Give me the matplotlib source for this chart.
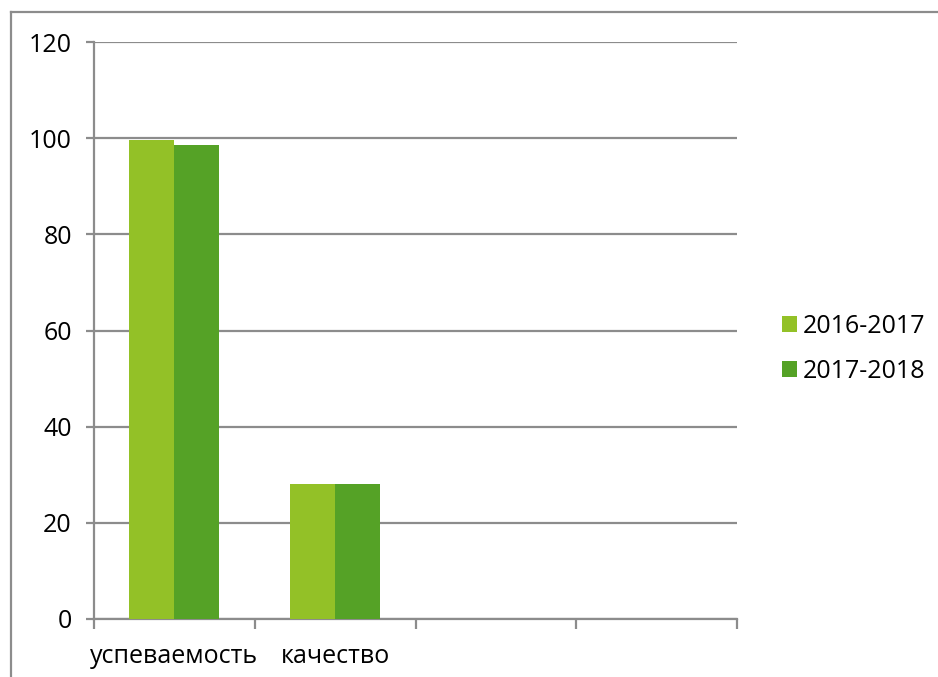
import matplotlib.pyplot as plt
from matplotlib.lines import Line2D
from matplotlib.patches import Patch

categories = ['успеваемость', 'качество', '', '']
years = ['2016-2017', '2017-2018']
values_2016 = [99.6, 28, None, None]
values_2017 = [98.5, 28, None, None]
colors = ['#93C127', '#55A226']

plt.rcParams['font.family'] = ['Open Sans', 'DejaVu Sans']

fig = plt.figure(figsize=(9.38, 6.77), dpi=100)
ax = fig.add_axes([94 / 938, 1 - 619 / 677, 643 / 938, 577 / 677])

gray = '#8c8c8c'
w = 0.28
for i, (v1, v2) in enumerate(zip(values_2016, values_2017)):
    if v1 is not None:
        ax.bar(i - w / 2, v1, w, color=colors[0], zorder=3)
    if v2 is not None:
        ax.bar(i + w / 2, v2, w, color=colors[1], zorder=3)

ax.set_xlim(-0.5, len(categories) - 0.5)
ax.set_ylim(0, 120)
ax.set_yticks(range(0, 121, 20))
ax.yaxis.grid(True, color=gray, linewidth=1.6, zorder=0)

ax.set_xticks(range(len(categories)))
ax.set_xticklabels(categories)
ax.set_xticks([i - 0.5 for i in range(len(categories) + 1)], minor=True)
ax.tick_params(axis='x', which='major', length=0, pad=18, labelsize=18)
ax.tick_params(axis='x', which='minor', length=7, width=1.6, color=gray, direction='out')
ax.tick_params(axis='y', length=6, width=1.6, color=gray, pad=10, labelsize=18)

for s in ['top', 'right']:
    ax.spines[s].set_visible(False)
for s in ['left', 'bottom']:
    ax.spines[s].set_color(gray)
    ax.spines[s].set_linewidth(1.6)

handles = [Patch(facecolor=c, label=y) for c, y in zip(colors, years)]
fig.legend(handles=handles, loc='center left', bbox_to_anchor=(759 / 938, 1 - 349 / 677),
           frameon=False, fontsize=18, handlelength=0.6, handleheight=0.6,
           handletextpad=0.25, labelspacing=0.8)

# outer chart border
fig.add_artist(Line2D([10.5 / 938, 10.5 / 938], [0, 1 - 12 / 677], color=gray, linewidth=1.6))
fig.add_artist(Line2D([10.5 / 938, 1], [1 - 12 / 677, 1 - 12 / 677], color=gray, linewidth=1.6))

fig.savefig('out.png', dpi=100)
